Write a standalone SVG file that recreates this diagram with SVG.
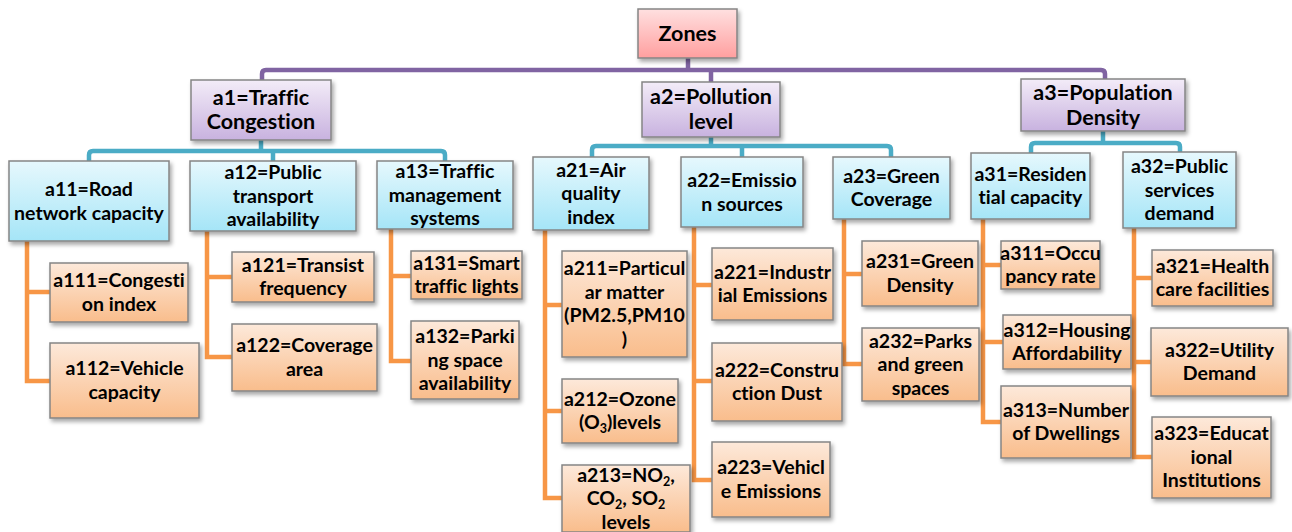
<svg xmlns="http://www.w3.org/2000/svg" width="1292" height="532" viewBox="0 0 1292 532">
<defs>
<linearGradient id="gPink" x1="0" y1="0" x2="0" y2="1"><stop offset="0" stop-color="#ffe0e0"/><stop offset="1" stop-color="#ff9f9f"/></linearGradient>
<linearGradient id="gPurple" x1="0" y1="0" x2="0" y2="1"><stop offset="0" stop-color="#f3ecf8"/><stop offset="1" stop-color="#c8b2df"/></linearGradient>
<linearGradient id="gBlue" x1="0" y1="0" x2="0" y2="1"><stop offset="0" stop-color="#e6f8fd"/><stop offset="1" stop-color="#a5e5f7"/></linearGradient>
<linearGradient id="gOrange" x1="0" y1="0" x2="0" y2="1"><stop offset="0" stop-color="#fde9da"/><stop offset="1" stop-color="#f9bd8c"/></linearGradient>
<filter id="sh" x="-10%" y="-10%" width="130%" height="140%"><feDropShadow dx="2" dy="3" stdDeviation="2" flood-color="#000" flood-opacity="0.35"/></filter>
</defs>
<style>
.box{stroke:#858585;stroke-width:1.5;filter:url(#sh)}
.pk{fill:url(#gPink)}
.pu{fill:url(#gPurple)}
.bl{fill:url(#gBlue)}
.or{fill:url(#gOrange)}
text{font-family:Lato,"Liberation Sans",sans-serif;font-weight:bold;fill:#000;text-anchor:middle;font-variant-ligatures:none;font-feature-settings:"liga" 0}
.t2{font-size:19.5px}
.t1{font-size:21.5px}
.t0{font-size:21.5px}
.sub{font-size:12.5px}
.cp{fill:none;stroke:#8064a2;stroke-width:4.5}
.cb{fill:none;stroke:#4bacc6;stroke-width:4.5}
.co{fill:none;stroke:#f79646;stroke-width:4.5}
</style>
<g id="connectors">
<path class="cp" d="M688,58 V70 M711,70 V82 M262,80 V74 Q262,70 266,70 H1101 Q1105,70 1105,74 V79"/>
<path class="cb" d="M261,140 V151 M273,151 V161 M89,161 V155 Q89,151 93,151 H441 Q445,151 445,155 V161"/>
<path class="cb" d="M711,137 V146 M742,146 V157 M592,157 V150 Q592,146 596,146 H887 Q891,146 891,150 V157"/>
<path class="cb" d="M1103,131 V143 M1031,153 V147 Q1031,143 1035,143 H1176 Q1180,143 1180,147 V152"/>
<path class="co" d="M27,241 V381 H50 M27,292 H50"/>
<path class="co" d="M207,231 V357 H232 M207,277 H232"/>
<path class="co" d="M391,229 V361 H411 M391,276 H411"/>
<path class="co" d="M545,230 V498 H562 M545,305 H562 M545,411 H562"/>
<path class="co" d="M694,227 V480 H712 M694,285 H712 M694,381 H712"/>
<path class="co" d="M844,219 V364 H862 M844,274 H862"/>
<path class="co" d="M983,219 V422 H1001 M983,265 H1001 M983,342 H1003"/>
<path class="co" d="M1134,228 V457 H1152 M1134,278 H1152 M1134,362 H1151"/>
</g>
<g id="zones"><rect class="box pk" x="638" y="9" width="99" height="49"/><text class="t0" x="687.5" y="41">Zones</text></g>
<g id="a1"><rect class="box pu" x="191" y="80" width="140" height="60"/><text class="t1" x="261" y="105">a1=Traffic</text><text class="t1" x="261" y="129">Congestion</text></g>
<g id="a2"><rect class="box pu" x="642" y="82" width="138" height="55"/><text class="t1" x="711" y="104">a2=Pollution</text><text class="t1" x="711" y="129">level</text></g>
<g id="a3"><rect class="box pu" x="1021" y="79" width="164" height="52"/><text class="t1" x="1103" y="100">a3=Population</text><text class="t1" x="1103" y="125">Density</text></g>

<g id="a11"><rect class="box bl" x="9" y="161" width="160" height="80"/><text class="t2" x="89" y="196">a11=Road</text><text class="t2" x="89" y="219.5">network capacity</text></g>
<g id="a12"><rect class="box bl" x="190" y="161" width="166" height="70"/><text class="t2" x="273" y="179">a12=Public</text><text class="t2" x="273" y="202.5">transport</text><text class="t2" x="273" y="226">availability</text></g>
<g id="a13"><rect class="box bl" x="377" y="161" width="136" height="68"/><text class="t2" x="445" y="178">a13=Traffic</text><text class="t2" x="445" y="201.5">management</text><text class="t2" x="445" y="225">systems</text></g>
<g id="a21"><rect class="box bl" x="533" y="157" width="116" height="73"/><text class="t2" x="591" y="176.5">a21=Air</text><text class="t2" x="591" y="200">quality</text><text class="t2" x="591" y="223.5">index</text></g>
<g id="a22"><rect class="box bl" x="681" y="157" width="122" height="70"/><text class="t2" x="742" y="187">a22=Emissio</text><text class="t2" x="742" y="210.5">n sources</text></g>
<g id="a23"><rect class="box bl" x="833" y="157" width="117" height="62"/><text class="t2" x="891.5" y="182.5">a23=Green</text><text class="t2" x="891.5" y="206">Coverage</text></g>
<g id="a31"><rect class="box bl" x="971" y="153" width="119" height="66"/><text class="t2" x="1030.5" y="180.5">a31=Residen</text><text class="t2" x="1030.5" y="204">tial capacity</text></g>
<g id="a32"><rect class="box bl" x="1123" y="152" width="113" height="76"/><text class="t2" x="1179.5" y="173">a32=Public</text><text class="t2" x="1179.5" y="196.5">services</text><text class="t2" x="1179.5" y="220">demand</text></g>

<g id="a111"><rect class="box or" x="50" y="263" width="138" height="59"/><text class="t2" x="119" y="287">a111=Congesti</text><text class="t2" x="119" y="310.5">on index</text></g>
<g id="a112"><rect class="box or" x="50" y="343" width="149" height="75"/><text class="t2" x="124.5" y="375">a112=Vehicle</text><text class="t2" x="124.5" y="398.5">capacity</text></g>
<g id="a121"><rect class="box or" x="232" y="252" width="142" height="50"/><text class="t2" x="303" y="271.5">a121=Transist</text><text class="t2" x="303" y="295">frequency</text></g>
<g id="a122"><rect class="box or" x="232" y="324" width="145" height="67"/><text class="t2" x="304.5" y="352">a122=Coverage</text><text class="t2" x="304.5" y="375.5">area</text></g>
<g id="a131"><rect class="box or" x="411" y="251" width="111" height="48"/><text class="t2" x="466.5" y="269.5">a131=Smart</text><text class="t2" x="466.5" y="293">traffic lights</text></g>
<g id="a132"><rect class="box or" x="411" y="321" width="108" height="78"/><text class="t2" x="465" y="343">a132=Parki</text><text class="t2" x="465" y="366.5">ng space</text><text class="t2" x="465" y="390">availability</text></g>
<g id="a211"><rect class="box or" x="562" y="251" width="125" height="106"/><text class="t2" x="624.5" y="275">a211=Particul</text><text class="t2" x="624.5" y="298.5">ar matter</text><text class="t2" x="624.5" y="322">(PM2.5,PM10</text><text class="t2" x="624.5" y="345.5">)</text></g>
<g id="a212"><rect class="box or" x="562" y="379" width="116" height="64"/><text class="t2" x="620" y="405.5">a212=Ozone</text><text class="t2" x="620" y="429">(O<tspan class="sub" dy="4">3</tspan><tspan dy="-4">)levels</tspan></text></g>
<g id="a213"><rect class="box or" x="562" y="465" width="128" height="67"/><text class="t2" x="626" y="481.5">a213=NO<tspan class="sub" dy="4">2</tspan><tspan dy="-4">,</tspan></text><text class="t2" x="626" y="505">CO<tspan class="sub" dy="4">2</tspan><tspan dy="-4">, SO</tspan><tspan class="sub" dy="4">2</tspan></text><text class="t2" x="626" y="528.5">levels</text></g>
<g id="a221"><rect class="box or" x="712" y="248" width="121" height="72"/><text class="t2" x="772.5" y="278.5">a221=Industr</text><text class="t2" x="772.5" y="302">ial Emissions</text></g>
<g id="a222"><rect class="box or" x="712" y="343" width="130" height="78"/><text class="t2" x="777" y="376.5">a222=Constru</text><text class="t2" x="777" y="400">ction Dust</text></g>
<g id="a223"><rect class="box or" x="712" y="442" width="118" height="75"/><text class="t2" x="771" y="474">a223=Vehicl</text><text class="t2" x="771" y="497.5">e Emissions</text></g>
<g id="a231"><rect class="box or" x="862" y="241" width="116" height="65"/><text class="t2" x="920" y="268">a231=Green</text><text class="t2" x="920" y="291.5">Density</text></g>
<g id="a232"><rect class="box or" x="862" y="328" width="117" height="73"/><text class="t2" x="920.5" y="347.5">a232=Parks</text><text class="t2" x="920.5" y="371">and green</text><text class="t2" x="920.5" y="394.5">spaces</text></g>
<g id="a311"><rect class="box or" x="1001" y="241" width="99" height="48"/><text class="t2" x="1050.5" y="259.5">a311=Occu</text><text class="t2" x="1050.5" y="283">pancy rate</text></g>
<g id="a312"><rect class="box or" x="1003" y="315" width="128" height="54"/><text class="t2" x="1067" y="336.5">a312=Housing</text><text class="t2" x="1067" y="360">Affordability</text></g>
<g id="a313"><rect class="box or" x="1001" y="386" width="130" height="72"/><text class="t2" x="1066" y="416.5">a313=Number</text><text class="t2" x="1066" y="440">of Dwellings</text></g>
<g id="a321"><rect class="box or" x="1152" y="250" width="121" height="56"/><text class="t2" x="1212.5" y="272.5">a321=Health</text><text class="t2" x="1212.5" y="296">care facilities</text></g>
<g id="a322"><rect class="box or" x="1151" y="328" width="137" height="68"/><text class="t2" x="1219.5" y="356.5">a322=Utility</text><text class="t2" x="1219.5" y="380">Demand</text></g>
<g id="a323"><rect class="box or" x="1152" y="417" width="119" height="81"/><text class="t2" x="1211.5" y="440">a323=Educat</text><text class="t2" x="1211.5" y="463.5">ional</text><text class="t2" x="1211.5" y="487">Institutions</text></g>
</svg>
